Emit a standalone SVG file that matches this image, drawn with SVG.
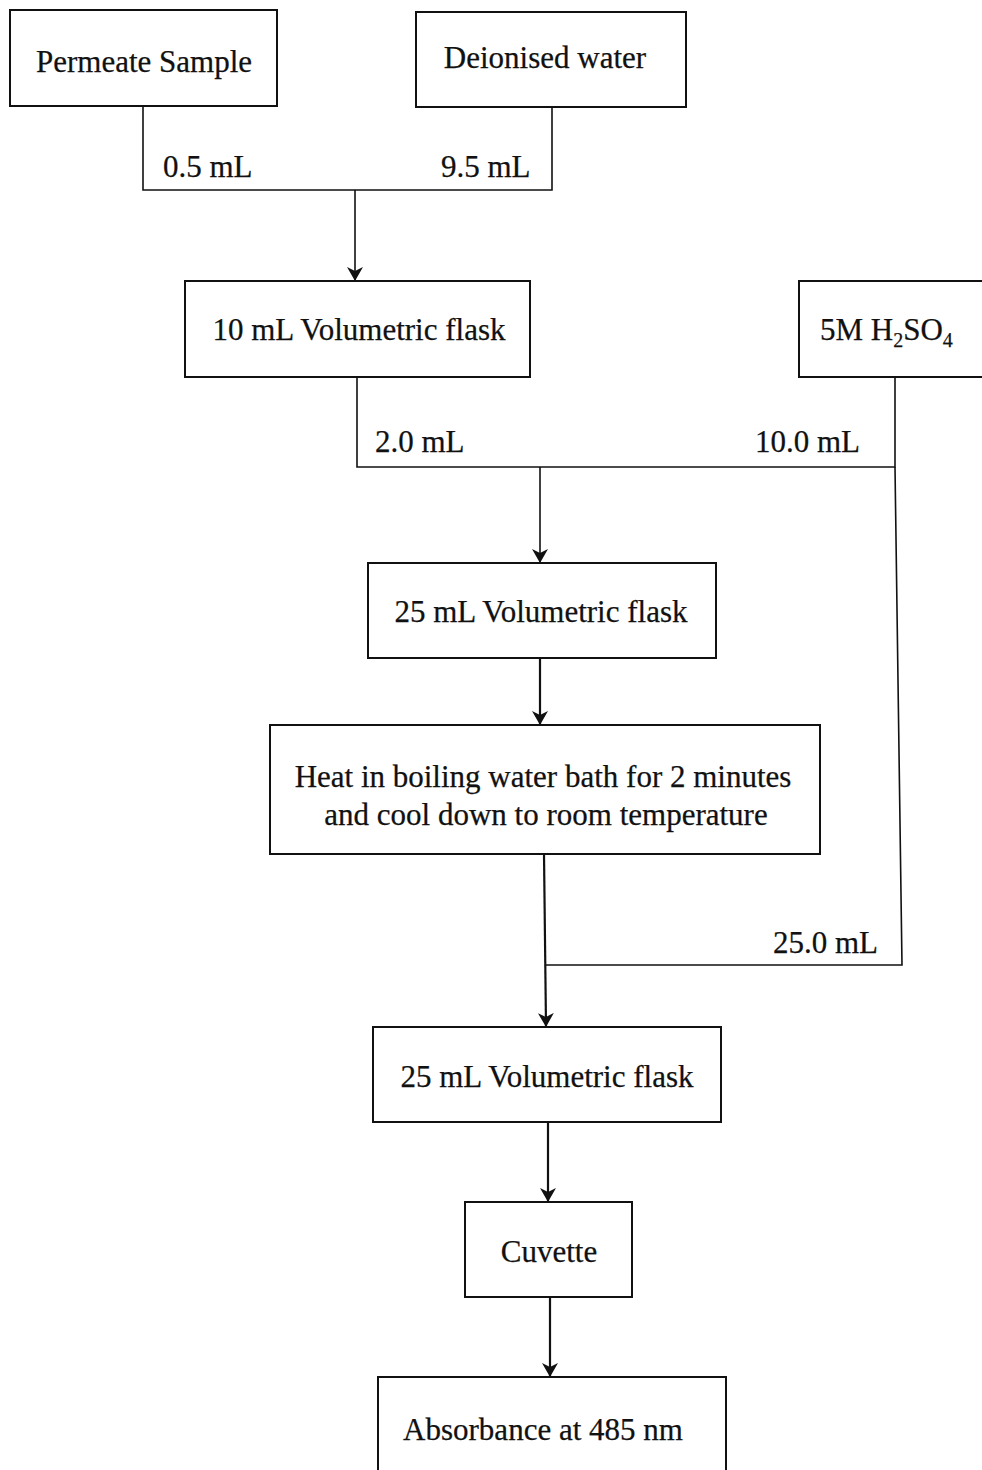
<svg xmlns="http://www.w3.org/2000/svg" width="982" height="1470" viewBox="0 0 982 1470">
<style>
.box{fill:#fff;stroke:#111;stroke-width:2}
.t{font-family:"Liberation Serif","Times New Roman",serif;font-size:31px;fill:#111;stroke:#111;stroke-width:0.25}
.c{text-anchor:middle}
.ln{fill:none;stroke:#111;stroke-width:1.6}
.ln2{fill:none;stroke:#111;stroke-width:2.2}
</style>
<defs>
<marker id="ah" markerWidth="14" markerHeight="16" refX="13" refY="8" orient="auto" markerUnits="userSpaceOnUse">
<path d="M0,0 L14,8 L0,16 L4,8 z" fill="#111"/>
</marker>
</defs>
<rect width="982" height="1470" fill="#fff"/>
<g id="connectors">
<polyline class="ln" points="143,106 143,190 552,190 552,107"/>
<line class="ln" x1="355" y1="190" x2="355" y2="280" marker-end="url(#ah)"/>
<polyline class="ln" points="357,377 357,467 895,467 895,377"/>
<line class="ln" x1="540" y1="467" x2="540" y2="562" marker-end="url(#ah)"/>
<line class="ln2" x1="540" y1="658" x2="540" y2="724" marker-end="url(#ah)"/>
<polyline class="ln" points="895,467 902,965 546,965"/>
<line class="ln2" x1="544" y1="854" x2="546" y2="1026" marker-end="url(#ah)"/>
<line class="ln2" x1="548" y1="1122" x2="548" y2="1201" marker-end="url(#ah)"/>
<line class="ln2" x1="550" y1="1297" x2="550" y2="1376" marker-end="url(#ah)"/>
<text class="t" x="163" y="177">0.5 mL</text>
<text class="t" x="441" y="177">9.5 mL</text>
<text class="t" x="375" y="452">2.0 mL</text>
<text class="t" x="755" y="452">10.0 mL</text>
<text class="t" x="773" y="953">25.0 mL</text>
</g>
<g id="permeate">
<rect class="box" x="10" y="10" width="267" height="96"/>
<text class="t c" x="144" y="72">Permeate Sample</text>
</g>
<g id="water">
<rect class="box" x="416" y="12" width="270" height="95"/>
<text class="t c" x="545" y="68">Deionised water</text>
</g>
<g id="flask10">
<rect class="box" x="185" y="281" width="345" height="96"/>
<text class="t c" x="359" y="340">10 mL Volumetric flask</text>
</g>
<g id="h2so4">
<rect class="box" x="799" y="281" width="200" height="96"/>
<text class="t" x="820" y="340">5M H<tspan font-size="20" dy="7">2</tspan><tspan dy="-7">SO</tspan><tspan font-size="20" dy="7">4</tspan></text>
</g>
<g id="flask25a">
<rect class="box" x="368" y="563" width="348" height="95"/>
<text class="t c" x="541" y="622">25 mL Volumetric flask</text>
</g>
<g id="heat">
<rect class="box" x="270" y="725" width="550" height="129"/>
<text class="t c" x="543" y="787">Heat in boiling water bath for 2 minutes</text>
<text class="t c" x="546" y="825">and cool down to room temperature</text>
</g>
<g id="flask25b">
<rect class="box" x="373" y="1027" width="348" height="95"/>
<text class="t c" x="547" y="1087">25 mL Volumetric flask</text>
</g>
<g id="cuvette">
<rect class="box" x="465" y="1202" width="167" height="95"/>
<text class="t c" x="549" y="1262">Cuvette</text>
</g>
<g id="absorbance">
<rect class="box" x="378" y="1377" width="348" height="110"/>
<text class="t c" x="543" y="1440">Absorbance at 485 nm</text>
</g>
</svg>
